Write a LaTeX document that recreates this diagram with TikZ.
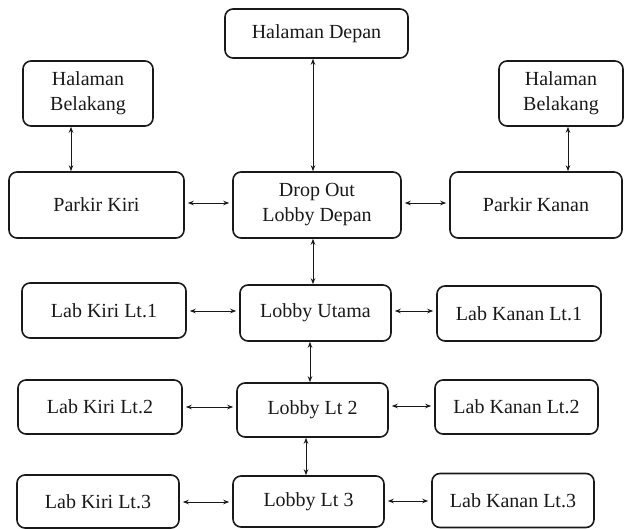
\documentclass[tikz,border=0pt]{standalone}
\usepackage{fontspec}
\setmainfont{Liberation Serif}
\usetikzlibrary{arrows.meta}
\tikzset{
  box/.style={draw=black!90, line width=1.6pt, rounded corners=8pt, inner sep=0pt,
    align=center, font=\fontsize{20}{25}\selectfont, text=black!90},
  arr/.style={{Stealth[length=6pt,width=4.5pt]}-{Stealth[length=6pt,width=4.5pt]}, line width=0.9pt, draw=black!90},
  harr/.style={arr, shorten <=3pt, shorten >=3pt}
}
\begin{document}
\begin{tikzpicture}[x=1pt,y=-1pt]
\useasboundingbox (0,0) rectangle (625,529);
% top row
\node[box, minimum width=183pt, minimum height=49pt] (hd) at (316.5,33.5) {Halaman Depan};
\node[box, minimum width=130pt, minimum height=65pt] (hbl) at (88,93.5) {Halaman\\Belakang};
\node[box, minimum width=124pt, minimum height=65pt] (hbr) at (561,93.5) {Halaman\\Belakang};
% parkir row
\node[box, minimum width=175pt, minimum height=66pt] (pk) at (96.5,205) {Parkir Kiri};
\node[box, minimum width=168pt, minimum height=66pt] (do) at (317,205) {Drop Out\\Lobby Depan};
\node[box, minimum width=172pt, minimum height=66pt] (pkn) at (536,205) {Parkir Kanan};
% lt1
\node[box, minimum width=164pt, minimum height=55pt] (lk1) at (104,310.5) {Lab Kiri Lt.1};
\node[box, minimum width=151pt, minimum height=56pt] (lu) at (315.5,313) {Lobby Utama};
\node[box, minimum width=164pt, minimum height=55pt] (lkn1) at (519,313.5) {Lab Kanan Lt.1};
% lt2
\node[box, minimum width=164pt, minimum height=54pt] (lk2) at (100,407) {Lab Kiri Lt.2};
\node[box, minimum width=151pt, minimum height=54pt] (l2) at (312.5,410) {Lobby Lt 2};
\node[box, minimum width=163pt, minimum height=54pt] (lkn2) at (516.5,407) {Lab Kanan Lt.2};
% lt3
\node[box, minimum width=162pt, minimum height=53pt] (lk3) at (98,501.5) {Lab Kiri Lt.3};
\node[box, minimum width=151pt, minimum height=51pt] (l3) at (308.5,501.5) {Lobby Lt 3};
\node[box, minimum width=162pt, minimum height=54pt] (lkn3) at (513,500.5) {Lab Kanan Lt.3};
% vertical connectors
\draw[arr] ([xshift=-3.5pt]hd.south) -- ([xshift=-3.5pt]hd.south |- do.north);
\draw[arr] ([xshift=-17pt]hbl.south) -- ([xshift=-17pt]hbl.south |- pk.north);
\draw[arr] ([xshift=7pt]hbr.south) -- ([xshift=7pt]hbr.south |- pkn.north);
\draw[arr] ([xshift=-4pt]do.south) -- ([xshift=-4pt]do.south |- lu.north);
\draw[arr] ([xshift=-5.5pt]lu.south) -- ([xshift=-5.5pt]lu.south |- l2.north);
\draw[arr] ([xshift=-6.5pt]l2.south) -- ([xshift=-6.5pt]l2.south |- l3.north);
% horizontal connectors
\draw[harr] ([yshift=2pt]pk.east) -- ([yshift=2pt]pk.east -| do.west);
\draw[harr] ([yshift=2pt]do.east) -- ([yshift=2pt]do.east -| pkn.west);
\draw[harr] ([yshift=-0.5pt]lk1.east) -- ([yshift=-0.5pt]lk1.east -| lu.west);
\draw[harr] ([yshift=2pt]lu.east) -- ([yshift=2pt]lu.east -| lkn1.west);
\draw[harr] (lk2.east) -- (lk2.east -| l2.west);
\draw[harr] ([yshift=1pt]lkn2.west) -- ([yshift=1pt]lkn2.west -| l2.east);
\draw[harr] ([yshift=-0.5pt]lk3.east) -- ([yshift=-0.5pt]lk3.east -| l3.west);
\draw[harr] ([yshift=-0.5pt]lkn3.west) -- ([yshift=-0.5pt]lkn3.west -| l3.east);
\end{tikzpicture}
\end{document}
